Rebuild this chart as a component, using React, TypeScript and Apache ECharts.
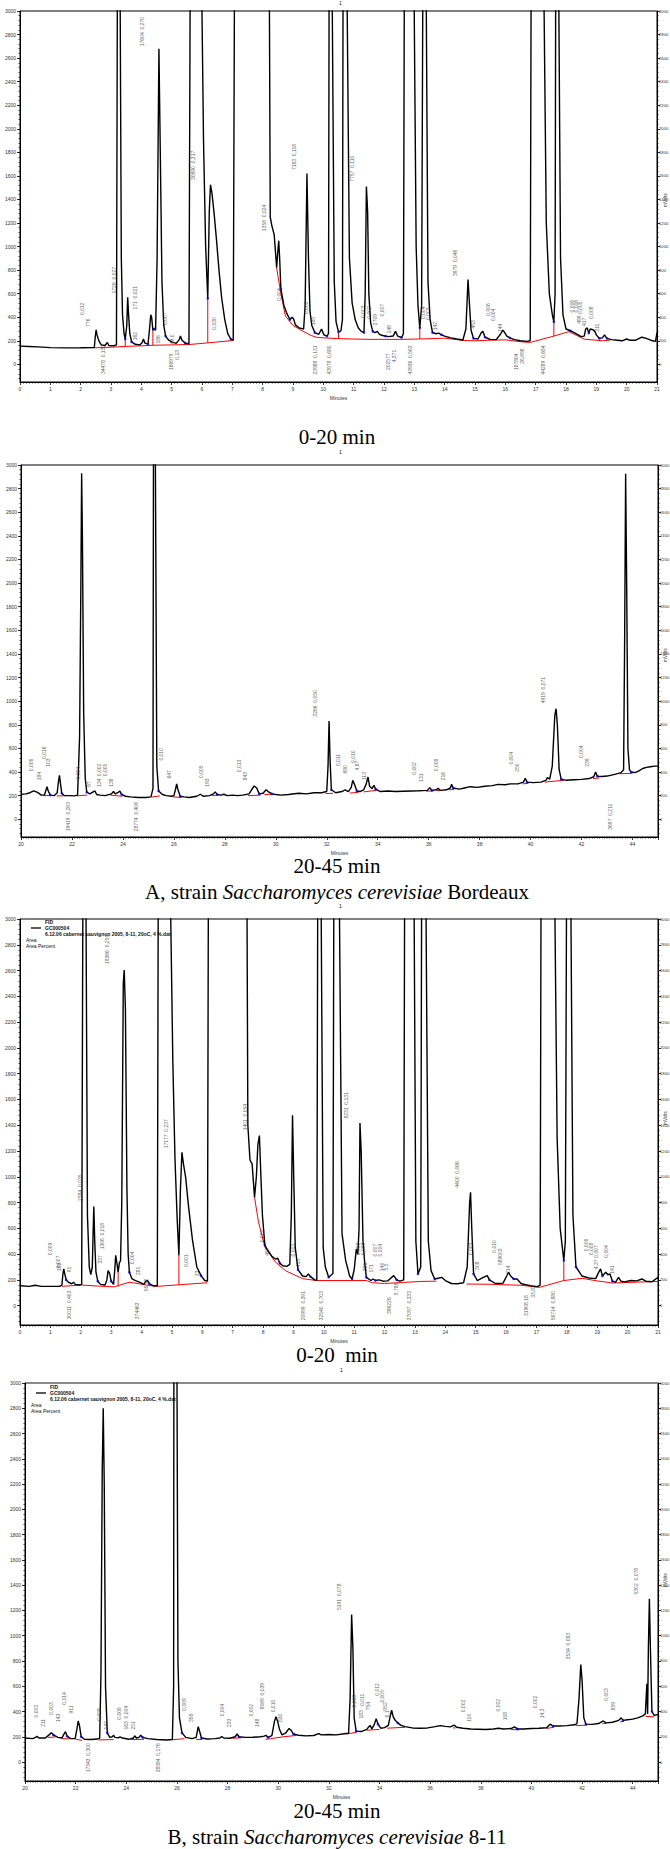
import { useEffect, useRef } from "react";
import * as echarts from "echarts";

// ---------- Panel 1 : strain A, 0-21 min ----------
const P1_TRACE: number[][] = [
  [0,155],[0.3,152],[0.6,148],[1.0,142],[1.5,140],[2.0,141],[2.45,143],[2.48,230],[2.51,292],[2.54,250],[2.58,215],[2.62,190],[2.68,165],[2.8,160],[2.88,185],[2.93,160],[3.1,158],[3.18,165],[3.21,3200],[3.3,3200],[3.34,900],[3.38,420],[3.43,260],[3.47,215],[3.52,330],[3.55,570],[3.58,420],[3.62,260],[3.68,190],[3.8,170],[3.95,165],[4.03,185],[4.07,215],[4.12,180],[4.22,172],[4.27,300],[4.31,420],[4.34,400],[4.38,290],[4.42,300],[4.47,290],[4.52,900],[4.58,2680],[4.63,1700],[4.68,700],[4.74,330],[4.8,240],[4.9,205],[5.0,190],[5.15,178],[5.25,210],[5.29,240],[5.34,205],[5.45,180],[5.57,175],[5.61,3200],[5.99,3200],[6.05,1900],[6.12,1000],[6.19,560],[6.24,1300],[6.28,1525],[6.33,1450],[6.4,1280],[6.48,1050],[6.56,800],[6.65,560],[6.75,380],[6.85,260],[6.95,215],[7.03,205],[7.07,3200],[8.22,3200],[8.25,1250],[8.3,1180],[8.38,1100],[8.46,820],[8.5,960],[8.53,1050],[8.56,900],[8.6,640],[8.7,500],[8.8,430],[8.9,380],[8.97,400],[9.02,385],[9.08,335],[9.2,310],[9.35,300],[9.4,500],[9.46,1620],[9.51,900],[9.56,450],[9.62,330],[9.72,270],[9.85,255],[9.94,300],[10.02,250],[10.12,240],[10.17,260],[10.19,3200],[10.29,3200],[10.36,700],[10.42,360],[10.5,275],[10.58,285],[10.63,380],[10.65,3200],[10.78,3200],[10.86,900],[10.95,520],[11.05,380],[11.15,310],[11.25,280],[11.34,270],[11.38,600],[11.42,1510],[11.46,1300],[11.5,600],[11.56,350],[11.63,280],[11.7,270],[11.78,280],[11.85,255],[11.95,245],[12.05,240],[12.15,235],[12.3,240],[12.38,280],[12.45,240],[12.58,228],[12.64,260],[12.67,3200],[12.99,3200],[13.06,1000],[13.12,500],[13.18,310],[13.24,500],[13.28,3200],[13.39,3200],[13.45,700],[13.52,380],[13.6,270],[13.72,260],[13.8,265],[13.9,250],[14.0,240],[14.2,225],[14.4,215],[14.6,207],[14.7,300],[14.77,720],[14.82,500],[14.87,290],[14.95,220],[15.1,215],[15.2,265],[15.26,280],[15.33,230],[15.5,212],[15.7,210],[15.85,260],[15.92,290],[15.98,270],[16.05,240],[16.15,225],[16.3,210],[16.5,200],[16.7,195],[16.82,200],[16.85,3200],[17.27,3200],[17.35,1200],[17.45,600],[17.55,420],[17.6,360],[17.64,600],[17.66,3200],[17.76,3200],[17.82,900],[17.9,420],[18.0,300],[18.15,285],[18.3,265],[18.5,235],[18.6,240],[18.65,300],[18.7,310],[18.75,265],[18.8,300],[18.88,295],[18.95,280],[19.0,250],[19.1,220],[19.2,225],[19.27,250],[19.35,220],[19.5,210],[19.7,205],[19.85,200],[20.0,215],[20.1,205],[20.3,205],[20.5,230],[20.65,220],[20.85,200],[20.95,195],[21.0,270]
];
const P1_BASE: number[][][] = [
  [[2.45,140],[3.2,148],[3.47,152],[4.0,157],[4.38,162],[5.0,165],[5.57,168],[6.19,182],[7.03,203]],
  [[8.46,820],[8.6,600],[8.75,410],[9.0,330],[9.3,285],[9.6,245],[9.8,228],[10.5,218],[11.5,212],[12.5,212],[13.18,215],[14.0,222],[14.4,210],[14.6,203],[15.0,200],[15.5,205],[16.0,208],[16.5,192],[16.82,186],[17.6,240],[18.1,278],[18.6,214],[19.2,200],[19.45,205]],
];
const P1_DROPS: number[][] = [[3.47,152,215],[4.38,162,290],[6.19,182,560],[10.5,218,275],[13.18,215,310],[17.6,240,360]];
const P1_BLUE: number[][] = [[3.47,215],[3.68,190],[4.22,172],[4.42,300],[4.8,240],[5.45,180],[6.19,560],[6.95,215],[8.6,640],[8.9,380],[9.72,270],[10.12,240],[10.5,275],[11.34,270],[11.63,280],[12.05,240],[12.58,228],[13.18,310],[13.6,270],[13.9,250],[14.95,220],[15.33,230],[16.15,225],[17.6,360],[18.15,285],[18.75,265],[19.1,220],[19.35,220]];
const P1_NOTES: (number | string)[][] = [
  [2.04,472,"0,012"],[2.25,353,"776"],[2.72,42,"34478  0,133"],[3.1,714,"1726  0,027"],[3.8,565,"171  0,021"],[3.78,240,"162"],[4.02,2825,"17604  0,270"],[4.54,212,"186"],[4.79,387,"0,007"],[5.0,212,"49,0"],[4.98,22,"166979"],[5.18,80,"0,13"],[5.71,1689,"30690  0,317"],[6.41,347,"0,030"],[8.06,1243,"1358  0,024"],[8.53,593,"0,004"],[9.02,1760,"7183  0,118"],[9.44,480,"0,003"],[9.65,367,"185"],[9.72,37,"23988  0,131"],[10.19,37,"43978  0,680"],[10.95,1661,"7757  0,110"],[11.32,446,"0,003"],[11.5,440,"0,002"],[11.7,380,"2709"],[11.95,460,"0,007"],[12.16,297,"149"],[12.12,22,"202577"],[12.33,70,"4,371"],[12.85,37,"43936  0,563"],[13.28,438,"0,004"],[13.45,430,"0,003"],[13.67,325,"142"],[14.33,862,"3979  0,046"],[14.94,340,"453"],[15.43,466,"0,006"],[15.6,420,"0,004"],[15.83,310,"144"],[16.35,22,"187804"],[16.56,70,"26,698"],[17.24,37,"44289  0,684"],[18.21,494,"0,006"],[18.33,494,"0,006"],[18.47,480,"0,005"],[18.42,380,"499"],[18.6,360,"417"],[18.82,438,"0,008"],[19.03,310,"311"]
];

// ---------- Panel 2 : strain A, 20-45 min ----------
const P2_TRACE: number[][] = [
  [20.0,212],[20.2,215],[20.35,225],[20.5,240],[20.65,228],[20.8,205],[20.92,205],[20.97,240],[21.02,276],[21.07,240],[21.15,205],[21.3,200],[21.42,225],[21.47,320],[21.51,372],[21.55,300],[21.6,220],[21.7,200],[21.9,200],[22.1,198],[22.22,205],[22.3,700],[22.35,2000],[22.38,2930],[22.41,2400],[22.46,900],[22.52,350],[22.58,230],[22.7,215],[22.85,235],[22.9,240],[22.97,210],[23.1,205],[23.3,200],[23.55,215],[23.63,235],[23.7,215],[23.8,225],[23.88,240],[23.95,210],[24.1,195],[24.3,190],[24.6,185],[24.9,185],[25.1,190],[25.18,260],[25.2,3200],[25.27,3200],[25.33,450],[25.4,240],[25.55,210],[25.7,200],[25.9,195],[26.0,200],[26.06,250],[26.11,300],[26.16,250],[26.25,195],[26.4,190],[26.6,185],[26.9,195],[27.04,212],[27.15,195],[27.4,200],[27.55,215],[27.62,232],[27.7,210],[27.85,205],[27.96,212],[28.1,200],[28.3,205],[28.5,200],[28.7,205],[28.95,215],[29.05,250],[29.15,282],[29.25,265],[29.35,215],[29.5,220],[29.62,250],[29.7,235],[29.85,215],[30.0,210],[30.2,205],[30.5,210],[30.9,220],[31.2,215],[31.5,225],[31.8,225],[32.0,235],[32.05,450],[32.09,832],[32.13,500],[32.18,250],[32.35,225],[32.6,235],[32.72,250],[32.85,235],[32.96,270],[33.02,330],[33.08,300],[33.18,240],[33.3,235],[33.45,250],[33.55,300],[33.62,358],[33.68,280],[33.78,260],[33.85,288],[33.92,255],[34.1,235],[34.4,240],[34.7,235],[35.0,238],[35.3,240],[35.6,242],[35.95,245],[36.04,268],[36.12,245],[36.3,250],[36.37,262],[36.45,245],[36.7,250],[36.85,265],[36.9,296],[36.96,265],[37.2,255],[37.4,265],[37.63,276],[37.9,270],[38.2,280],[38.5,285],[38.72,296],[39.0,292],[39.2,300],[39.5,300],[39.72,315],[39.79,347],[39.86,315],[40.1,310],[40.4,315],[40.6,330],[40.66,352],[40.75,340],[40.85,450],[40.95,880],[41.0,936],[41.05,800],[41.12,420],[41.2,340],[41.4,330],[41.7,335],[42.0,338],[42.3,345],[42.48,360],[42.55,400],[42.62,365],[42.8,362],[43.0,366],[43.3,380],[43.55,395],[43.65,420],[43.69,1500],[43.73,2926],[43.77,2000],[43.82,600],[43.88,420],[43.95,400],[44.1,395],[44.25,410],[44.4,430],[44.55,440],[44.7,445],[44.85,450],[45.0,450]
];
const P2_BASE: number[][][] = [
  [[20.9,200],[21.15,202]],[[21.4,198],[21.65,198]],[[22.2,198],[22.6,205]],[[23.5,205],[23.98,195]],[[25.12,188],[25.45,198]],[[25.95,190],[26.3,185]],[[27.5,200],[27.75,205]],[[28.9,200],[29.4,205]],[[29.55,210],[29.9,212]],[[31.95,218],[32.25,220]],[[32.9,222],[33.25,228]],[[33.45,232],[33.95,245]],[[35.9,238],[36.2,240]],[[36.3,244],[36.5,244]],[[36.8,250],[37.0,252]],[[39.68,300],[39.92,305]],[[40.55,315],[41.3,330]],[[42.45,345],[42.7,350]],[[43.5,385],[44.0,390]]
];
const P2_DROPS: number[][] = [];
const P2_BLUE: number[][] = [[21.15,205],[21.6,220],[22.58,230],[23.95,210],[25.4,240],[26.25,195],[27.7,210],[29.35,215],[29.85,215],[32.18,250],[33.18,240],[33.92,255],[36.12,245],[36.96,265],[39.86,315],[41.2,340],[42.62,365],[43.95,400]];
const P2_NOTES: (number | string)[][] = [
  [20.41,460,"0,006"],[20.69,366,"184"],[20.91,564,"0,016"],[21.05,480,"103"],[22.25,389,"0,024"],[22.68,296,"97"],[21.84,22,"19419  0,263"],[23.05,417,"0,002"],[23.3,417,"0,005"],[23.07,310,"134"],[23.55,310,"138"],[24.53,22,"28774  0,406"],[25.5,550,"0,010"],[25.79,380,"647"],[27.05,403,"0,005"],[27.3,310,"193"],[28.56,451,"0,013"],[28.81,366,"843"],[31.53,981,"3266  0,050"],[32.46,502,"0,011"],[32.7,423,"690"],[33.03,530,"0,010"],[33.2,455,"4,87"],[33.46,366,"113"],[35.41,431,"0,002"],[35.7,352,"131"],[36.29,460,"0,008"],[36.56,366,"216"],[39.23,516,"0,004"],[39.48,437,"250"],[40.49,1094,"4919  0,071"],[41.97,572,"0,004"],[42.2,480,"239"],[43.1,22,"3697  0,211"]
];

// ---------- Panel 3 : strain B, 0-21 min ----------
const P3_TRACE: number[][] = [
  [0,155],[0.3,150],[0.5,158],[0.7,150],[1.0,150],[1.3,150],[1.38,160],[1.41,240],[1.44,285],[1.48,240],[1.52,200],[1.6,180],[1.7,170],[1.76,182],[1.82,165],[1.95,160],[2.03,165],[2.07,3200],[2.17,3200],[2.22,700],[2.28,300],[2.33,240],[2.38,300],[2.41,600],[2.43,770],[2.46,500],[2.5,260],[2.56,190],[2.65,165],[2.8,160],[2.86,200],[2.9,272],[2.95,250],[3.0,190],[3.08,165],[3.12,280],[3.15,390],[3.19,330],[3.23,260],[3.27,330],[3.31,350],[3.35,800],[3.4,2500],[3.43,2604],[3.47,2300],[3.52,900],[3.56,400],[3.6,260],[3.68,210],[3.8,195],[3.95,180],[4.08,165],[4.14,190],[4.2,195],[4.26,170],[4.38,155],[4.52,155],[4.55,3200],[4.95,3200],[5.03,1900],[5.1,1150],[5.17,690],[5.23,390],[5.28,900],[5.33,1190],[5.38,1100],[5.45,1000],[5.55,765],[5.68,505],[5.82,300],[5.96,233],[6.08,195],[6.17,190],[6.2,3200],[7.47,3200],[7.5,1400],[7.57,1130],[7.64,1100],[7.72,840],[7.78,1000],[7.83,1250],[7.88,1320],[7.93,1000],[7.98,700],[8.06,470],[8.15,430],[8.3,380],[8.42,360],[8.48,370],[8.55,330],[8.65,310],[8.78,305],[8.88,320],[8.93,700],[8.97,1477],[9.01,1000],[9.06,450],[9.15,280],[9.3,230],[9.42,225],[9.49,246],[9.56,225],[9.7,200],[9.77,198],[9.8,3200],[9.91,3200],[9.98,450],[10.05,300],[10.16,220],[10.3,250],[10.33,3200],[10.51,3200],[10.6,557],[10.72,350],[10.85,230],[10.93,207],[11.0,280],[11.07,440],[11.12,400],[11.16,600],[11.19,1417],[11.23,1200],[11.29,500],[11.34,350],[11.4,220],[11.55,195],[11.62,207],[11.7,195],[11.82,200],[11.95,190],[12.1,192],[12.3,233],[12.4,200],[12.5,190],[12.63,200],[12.66,3200],[12.97,3200],[13.03,500],[13.1,246],[13.19,300],[13.22,3200],[13.36,3200],[13.44,500],[13.53,272],[13.65,207],[13.8,215],[13.88,220],[14.0,195],[14.2,172],[14.4,170],[14.6,178],[14.72,300],[14.8,800],[14.83,880],[14.87,600],[14.93,246],[15.05,195],[15.25,220],[15.38,233],[15.45,200],[15.65,172],[15.9,175],[16.02,230],[16.08,259],[16.15,230],[16.25,207],[16.36,207],[16.5,170],[16.8,155],[17.03,148],[17.12,160],[17.15,3200],[17.6,3200],[17.68,1300],[17.78,600],[17.9,350],[17.95,500],[17.99,3200],[18.13,3200],[18.2,700],[18.3,300],[18.5,230],[18.72,215],[18.95,210],[19.05,260],[19.11,285],[19.17,230],[19.28,259],[19.35,240],[19.42,246],[19.5,190],[19.6,181],[19.7,220],[19.78,190],[19.9,185],[20.1,195],[20.3,192],[20.47,207],[20.6,190],[20.8,186],[21.0,220]
];
const P3_BASE: number[][][] = [
  [[1.38,150],[2.03,160],[2.55,152],[3.1,146],[3.6,182],[4.38,152],[4.52,150],[5.23,162],[6.17,178]],
  [[7.72,840],[7.85,650],[8.06,455],[8.4,340],[8.75,270],[9.3,210],[9.75,195],[10.5,195],[11.4,195],[11.6,178],[12.0,172],[12.6,180],[13.2,188],[13.7,190]],
  [[14.7,168],[15.5,166],[16.5,158],[17.1,142],[17.9,195],[18.5,212],[19.0,192],[19.5,176],[21.0,188]],
];
const P3_DROPS: number[][] = [[3.23,147,260],[5.23,162,390],[17.9,195,350]];
const P3_BLUE: number[][] = [[1.52,200],[2.56,190],[3.0,190],[3.6,260],[4.26,170],[5.96,233],[8.06,470],[8.55,330],[9.15,280],[9.56,225],[10.16,220],[10.93,207],[11.4,220],[11.7,195],[12.4,200],[13.1,246],[13.65,207],[14.93,246],[15.45,200],[16.25,207],[17.9,350],[18.3,300],[19.17,230],[19.5,190]];
const P3_NOTES: (number | string)[][] = [
  [0.98,440,"0,009"],[1.25,340,"0,007"],[1.3,300,"188"],[1.6,280,"91"],[1.6,5,"30011  0,403"],[1.96,915,"2384  0,035"],[2.7,540,"1306  0,018"],[2.63,360,"337"],[2.87,2764,"19366  0,259"],[3.69,370,"0,004"],[3.88,270,"281"],[3.86,-40,"374463"],[4.14,160,"56,12"],[4.8,1334,"17177  0,237"],[5.47,350,"0,001"],[5.82,250,"33"],[7.39,1463,"1401  0,054"],[7.95,540,"0,001"],[8.13,420,"457"],[8.99,430,"0,003"],[9.15,330,"415"],[9.32,0,"20999  0,391"],[9.91,0,"32540  0,703"],[10.72,1554,"8231  0,131"],[11.12,440,"0,003"],[11.29,440,"0,003"],[11.36,300,"386"],[11.54,290,"171"],[11.7,430,"0,007"],[11.85,430,"0,004"],[11.93,300,"140"],[12.05,300,"5,5"],[12.15,0,"396226"],[12.38,130,"5,786"],[12.8,0,"37097  0,333"],[14.4,1018,"4400  0,066"],[14.83,440,"0,003"],[15.05,310,"308"],[15.6,460,"0,010"],[15.8,380,"589003"],[16.05,280,"214"],[16.65,0,"31908.18"],[16.9,110,"33,82"],[17.55,0,"56714  0,880"],[18.62,470,"0,006"],[18.8,440,"0,008"],[18.95,420,"0,007"],[18.97,320,"4,37"],[19.28,420,"0,004"],[19.48,280,"141"]
];

// ---------- Panel 4 : strain B, 20-45 min ----------
const P4_TRACE: number[][] = [
  [20.0,190],[20.3,185],[20.42,195],[20.47,205],[20.55,190],[20.8,190],[20.95,215],[21.04,232],[21.12,215],[21.3,195],[21.45,190],[21.55,225],[21.6,240],[21.66,205],[21.8,185],[21.98,185],[22.05,260],[22.1,325],[22.15,290],[22.22,200],[22.35,180],[22.6,178],[22.85,182],[22.95,190],[23.0,700],[23.05,2300],[23.09,2800],[23.13,2200],[23.18,600],[23.25,230],[23.35,195],[23.45,200],[23.5,212],[23.55,195],[23.7,192],[23.75,200],[23.85,190],[24.1,180],[24.28,190],[24.33,208],[24.4,190],[24.5,195],[24.57,212],[24.65,195],[24.85,185],[25.2,178],[25.6,175],[25.82,178],[25.87,600],[25.88,3200],[26.0,3200],[26.04,800],[26.1,350],[26.2,230],[26.35,195],[26.6,185],[26.76,195],[26.84,280],[26.9,240],[26.97,190],[27.2,182],[27.5,185],[27.7,190],[27.77,202],[27.85,190],[28.1,188],[28.3,200],[28.38,222],[28.45,200],[28.7,195],[29.0,196],[29.3,200],[29.45,205],[29.52,212],[29.6,195],[29.75,210],[29.85,320],[29.91,358],[29.98,320],[30.05,260],[30.15,215],[30.3,230],[30.42,265],[30.5,255],[30.6,222],[30.8,212],[31.1,207],[31.4,210],[31.6,225],[31.7,215],[32.0,218],[32.3,215],[32.6,224],[32.78,228],[32.84,500],[32.9,1168],[32.95,900],[33.0,350],[33.08,245],[33.3,242],[33.5,258],[33.58,280],[33.63,290],[33.7,262],[33.8,300],[33.87,342],[33.94,300],[34.05,268],[34.2,272],[34.35,290],[34.42,360],[34.48,410],[34.54,360],[34.62,330],[34.72,310],[34.85,290],[35.0,280],[35.3,270],[35.6,268],[35.9,270],[36.2,280],[36.4,288],[36.6,282],[36.8,278],[36.95,292],[37.05,275],[37.3,268],[37.6,262],[37.9,260],[38.2,258],[38.5,262],[38.7,268],[38.9,262],[39.2,265],[39.33,278],[39.45,262],[39.7,262],[40.0,265],[40.3,268],[40.6,272],[40.74,300],[40.85,285],[41.1,285],[41.4,288],[41.7,295],[41.8,305],[41.88,500],[41.95,772],[42.0,650],[42.07,350],[42.15,300],[42.4,298],[42.65,305],[42.84,325],[42.95,310],[43.2,315],[43.45,330],[43.55,350],[43.62,330],[43.8,335],[44.0,340],[44.2,350],[44.4,365],[44.5,380],[44.56,620],[44.59,380],[44.62,900],[44.66,1292],[44.7,900],[44.76,400],[44.85,370],[45.0,375]
];
const P4_BASE: number[][][] = [
  [[20.9,195],[21.2,198]],[[21.45,185],[21.75,183]],[[22.0,180],[22.25,172]],[[22.9,175],[23.5,178]],[[24.2,178],[24.7,180]],[[25.8,176],[26.3,185]],[[26.75,180],[27.0,178]],[[28.2,188],[28.55,192]],[[29.5,180],[29.7,185],[30.2,200],[30.7,210]],[[32.7,222],[33.1,236]],[[33.5,252],[34.0,258]],[[34.3,268],[35.0,275]],[[36.9,270],[37.0,270]],[[39.2,258],[39.5,255]],[[40.6,266],[40.9,276]],[[41.75,288],[42.2,292]],[[42.8,304],[42.95,305]],[[43.5,318],[43.65,322]],[[44.5,362],[44.85,358]]
];
const P4_DROPS: number[][] = [];
const P4_BLUE: number[][] = [[21.12,215],[21.66,205],[22.22,200],[23.25,230],[24.65,195],[26.2,230],[26.97,190],[28.45,200],[29.6,195],[30.6,222],[33.08,245],[33.94,300],[34.72,310],[39.45,262],[40.85,285],[42.15,300],[43.62,330],[44.76,400]];
const P4_NOTES: (number | string)[][] = [
  [20.45,403,"0,003"],[20.7,310,"211"],[21.04,424,"0,003"],[21.29,350,"143"],[21.55,503,"0,014"],[21.8,416,"911"],[22.92,377,"0,008"],[23.19,290,"147"],[22.47,34,"17343  0,300"],[23.73,385,"0,006"],[23.98,395,"0,004"],[24.0,290,"163"],[24.27,290,"251"],[25.27,34,"38384  0,176"],[26.28,456,"0,009"],[26.55,350,"358"],[27.79,411,"0,004"],[28.04,310,"233"],[28.93,411,"0,002"],[29.15,310,"148"],[29.35,522,"8069  0,039"],[29.8,443,"0,010"],[30.06,350,"830"],[32.41,1308,"5191  0,078"],[33.0,482,"0,003"],[33.3,493,"0,011"],[33.27,377,"183"],[33.55,443,"754"],[33.89,575,"0,012"],[34.1,520,"0,005"],[34.2,440,"952"],[34.31,380,"6,1"],[37.28,443,"0,002"],[37.53,350,"110"],[38.68,450,"0,002"],[38.96,364,"108"],[40.15,475,"0,002"],[40.41,385,"14,3"],[41.45,917,"3534  0,063"],[42.96,535,"0,003"],[43.21,443,"859"],[44.13,1431,"5302  0,078"]
];

// ---------- axis ticks ----------
const Y_LABELS = [0,200,400,600,800,1000,1200,1400,1600,1800,2000,2200,2400,2600,2800,3000];
const Y_MINOR: number[] = [];
for (let v = -120; v <= 3000; v += 40) Y_MINOR.push(v);

const SANS = "Liberation Sans, Arial, sans-serif";
const SERIF = "Liberation Serif, 'Times New Roman', serif";

type Panel = {
  left: number; top: number; width: number; height: number;
  xMin: number; xMax: number; xInterval: number; minorSplit: number; showMax: boolean;
  trace: number[][]; base: number[][][]; drops: number[][]; blue: number[][]; notes: (number | string)[][];
};

const PANELS: Panel[] = [
  { left: 20, top: 11, width: 637, height: 371, xMin: 0, xMax: 21, xInterval: 1, minorSplit: 10, showMax: true, trace: P1_TRACE, base: P1_BASE, drops: P1_DROPS, blue: P1_BLUE, notes: P1_NOTES },
  { left: 21, top: 465, width: 637, height: 372, xMin: 20, xMax: 45, xInterval: 2, minorSplit: 20, showMax: false, trace: P2_TRACE, base: P2_BASE, drops: P2_DROPS, blue: P2_BLUE, notes: P2_NOTES },
  { left: 20, top: 919, width: 638, height: 406, xMin: 0, xMax: 21, xInterval: 1, minorSplit: 10, showMax: true, trace: P3_TRACE, base: P3_BASE, drops: P3_DROPS, blue: P3_BLUE, notes: P3_NOTES },
  { left: 25, top: 1383, width: 633, height: 398, xMin: 20, xMax: 45, xInterval: 2, minorSplit: 20, showMax: false, trace: P4_TRACE, base: P4_BASE, drops: P4_DROPS, blue: P4_BLUE, notes: P4_NOTES },
];

function buildOption(): any {
  const grid: any[] = [];
  const xAxis: any[] = [];
  const yAxis: any[] = [];
  const series: any[] = [];
  PANELS.forEach((p, i) => {
    grid.push({
      left: p.left, top: p.top, width: p.width, height: p.height,
      show: true, borderColor: "#000", borderWidth: 1, backgroundColor: "transparent",
      containLabel: false, outerBoundsMode: "none",
    });
    xAxis.push({
      type: "value", gridIndex: i, min: p.xMin, max: p.xMax, interval: p.xInterval, position: "bottom",
      name: "Minutes", nameLocation: "middle", nameGap: 13,
      nameTextStyle: { fontSize: 5, color: "#333", fontFamily: SANS },
      axisLine: { show: true, onZero: false, lineStyle: { color: "#000", width: 1 } },
      axisTick: { show: true, length: 3, lineStyle: { color: "#000", width: 0.8 } },
      minorTick: { show: true, splitNumber: p.minorSplit, length: 1.6, lineStyle: { color: "#000", width: 0.6 } },
      axisLabel: { fontSize: 5, color: "#333", margin: 4, fontFamily: SANS, showMaxLabel: p.showMax, showMinLabel: true, formatter: (v: number) => String(v) },
      splitLine: { show: false }, minorSplitLine: { show: false },
    });
    const yi = yAxis.length;
    (["left", "right"] as const).forEach((side) => {
      yAxis.push({
        type: "value", gridIndex: i, position: side, min: -150, max: 3000,
        axisLine: { show: true, onZero: false, lineStyle: { color: "#000", width: 1 } },
        axisTick: { show: true, length: 3, customValues: Y_LABELS, lineStyle: { color: "#000", width: 0.8 } },
        axisLabel: {
          show: true, customValues: Y_LABELS, fontSize: side === "right" ? 4.2 : 5, margin: side === "right" ? 2 : 4,
          color: "#333", fontFamily: SANS, formatter: (v: number) => String(v),
        },
        splitLine: { show: false },
      });
      yAxis.push({
        type: "value", gridIndex: i, position: side, min: -150, max: 3000,
        axisLine: { show: false, onZero: false },
        axisTick: { show: true, length: 1.6, customValues: Y_MINOR, lineStyle: { color: "#000", width: 0.6 } },
        axisLabel: { show: false },
        splitLine: { show: false },
      });
    });
    const segs = p.base.map((c) => ({ coords: c }));
    p.drops.forEach((d) => segs.push({ coords: [[d[0], d[1]], [d[0], d[2]]] }));
    series.push({
      type: "lines", coordinateSystem: "cartesian2d", xAxisIndex: i, yAxisIndex: yi,
      polyline: true, data: segs, silent: true, z: 2,
      lineStyle: { color: "#ff0000", width: 1, opacity: 1 },
    });
    series.push({
      type: "line", xAxisIndex: i, yAxisIndex: yi, data: p.trace, showSymbol: false, symbol: "none",
      clip: true, silent: true, z: 3, lineStyle: { color: "#000", width: 1.4 },
    });
    series.push({
      type: "scatter", xAxisIndex: i, yAxisIndex: yi, data: p.blue, symbolSize: 2.6, silent: true, z: 4,
      itemStyle: { color: "#0000ff" },
    });
    series.push({
      type: "scatter", xAxisIndex: i, yAxisIndex: yi, data: p.notes, symbolSize: 0, silent: true, z: 5,
      encode: { x: 0, y: 1 },
      label: {
        show: true, position: "inside", rotate: 90, fontSize: 5, color: "#333", fontFamily: SANS,
        formatter: (q: any) => String(q.value[2]),
      },
    });
  });

  const capStyle = (text: string, y: number) => ({
    type: "text", x: 337, y,
    style: {
      text, fontFamily: SERIF, fontSize: 21, fill: "#000", align: "center", verticalAlign: "middle",
      rich: {
        n: { fontFamily: SERIF, fontSize: 21, fill: "#000" },
        i: { fontFamily: SERIF, fontSize: 21, fontStyle: "italic", fill: "#000" },
      },
    },
  });
  const tiny = (text: string, x: number, y: number, bold = false) => ({
    type: "text", x, y,
    style: { text, fontFamily: SANS, fontSize: 5, fontWeight: bold ? "bold" : "normal", fill: "#111", verticalAlign: "middle" },
  });
  const legend = (x0: number, y0: number) => [
    { type: "line", shape: { x1: x0, y1: y0 + 6, x2: x0 + 10, y2: y0 + 6 }, style: { stroke: "#000", lineWidth: 1.3 } },
    tiny("FID", x0 + 14, y0, true),
    tiny("GC000504", x0 + 14, y0 + 6, true),
    tiny("6.12.06 cabernet sauvignon 2005, 8-11, 20oC, 4 %.dat", x0 + 14, y0 + 12, true),
    tiny("Area", x0 - 5, y0 + 18),
    tiny("Area Percent", x0 - 5, y0 + 24),
  ];
  const mv = (y: number) => ({
    type: "text", x: 665, y, rotation: Math.PI / 2,
    style: { text: "mVolts", fontFamily: SANS, fontSize: 4.6, fill: "#333", align: "center", verticalAlign: "middle" },
  });

  const graphic: any[] = [
    tiny("1", 339, 3),
    capStyle("{n|0-20 min}", 437),
    tiny("1", 339, 452),
    capStyle("{n|20-45 min}", 866),
    capStyle("{n|A, strain }{i|Saccharomyces cerevisiae}{n| Bordeaux}", 892),
    tiny("1", 339, 906),
    capStyle("{n|0-20  min}", 1355),
    tiny("1", 340, 1370),
    capStyle("{n|20-45 min}", 1811),
    capStyle("{n|B, strain }{i|Saccharomyces cerevisiae}{n| 8-11}", 1837),
    ...legend(31, 922),
    ...legend(36, 1387),
    { type: "line", shape: { x1: 25, y1: 1383, x2: 658, y2: 1383 }, style: { stroke: "#8a8a8a", lineWidth: 2 } },
    mv(200), mv(655), mv(1118), mv(1580),
  ];

  return { animation: false, backgroundColor: "#fff", grid, xAxis, yAxis, series, graphic };
}

export default function App() {
  const ref = useRef<HTMLDivElement>(null);
  useEffect(() => {
    if (!ref.current) return;
    const chart = echarts.init(ref.current, undefined, { renderer: "svg" });
    chart.setOption(buildOption());
    return () => chart.dispose();
  }, []);
  return (
    <div
      ref={ref}
      style={{ position: "absolute", left: 0, top: 0, width: 670, height: 1849, background: "#fff" }}
    />
  );
}
